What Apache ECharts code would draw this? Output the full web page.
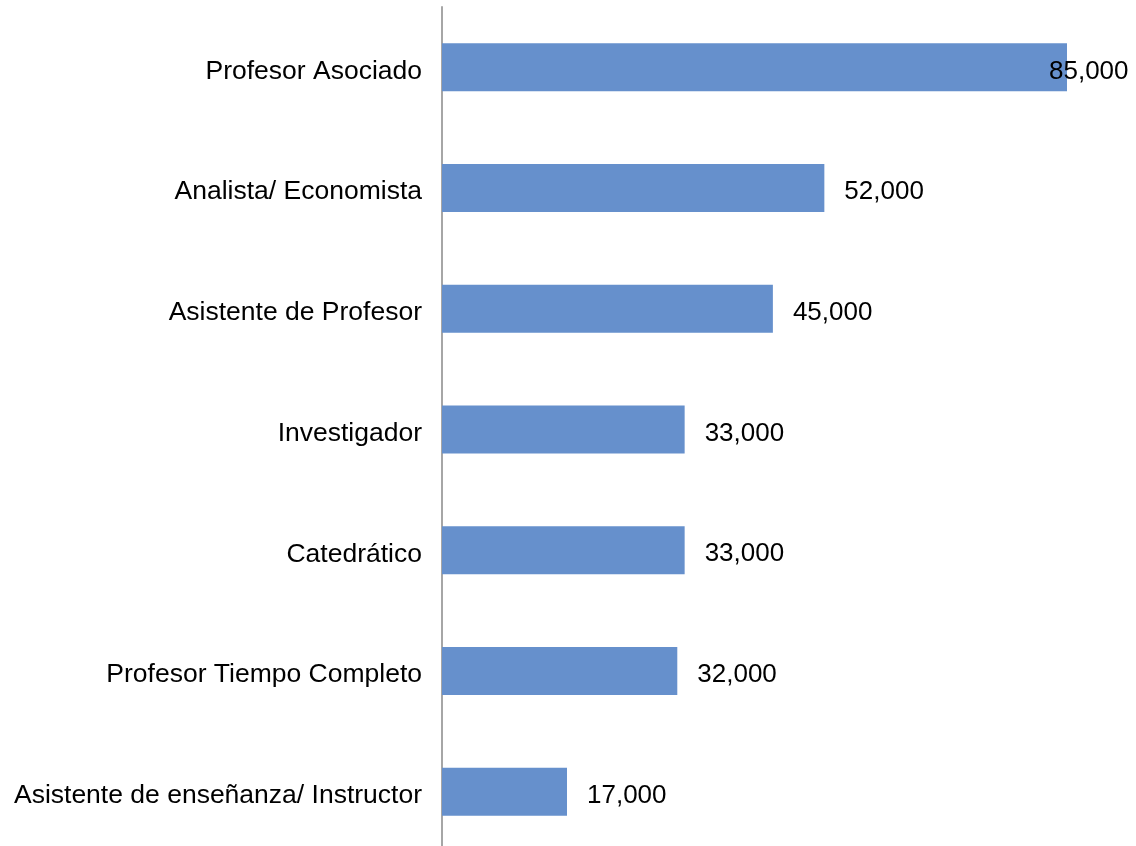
<!DOCTYPE html>
<html>
<head>
<meta charset="utf-8">
<script src="https://cdn.jsdelivr.net/npm/echarts@6/dist/echarts.min.js"></script>
<style>
  html, body { margin: 0; padding: 0; background: #fff; }
  #chart { width: 1136px; height: 846px; }
</style>
</head>
<body>
<div id="chart"></div>
<script>
const categories = [
  'Profesor Asociado',
  'Analista/ Economista',
  'Asistente de Profesor',
  'Investigador',
  'Catedrático',
  'Profesor Tiempo Completo',
  'Asistente de enseñanza/ Instructor'
];
const salaries = [85000, 52000, 45000, 33000, 33000, 32000, 17000];

const FONT = 'Liberation Sans, Arial, Helvetica, sans-serif';
const maxVal = Math.max(...salaries);

const chart = echarts.init(document.getElementById('chart'));
chart.setOption({
  animation: false,
  grid: { left: 442, right: 69, top: 7, bottom: -6, outerBoundsMode: 'none' },
  xAxis: {
    type: 'value', min: 0, max: 85000,
    show: false
  },
  yAxis: {
    type: 'category',
    inverse: true,
    data: categories,
    axisLine: { show: true, lineStyle: { color: '#a6a6a6', width: 2 } },
    axisTick: { show: false },
    axisLabel: {
      margin: 20,
      formatter: v => '{c|' + v + '}',
      rich: {
        c: { color: '#000', fontSize: 26.5, fontFamily: FONT, padding: [8, 0, 0, 0] }
      }
    }
  },
  series: [{
    type: 'bar',
    barWidth: 48,
    data: salaries.map(v => v === maxVal
      ? { value: v, label: { offset: [-38, 4] } }
      : v),
    itemStyle: { color: '#6690cc' },
    label: {
      show: true,
      position: 'right',
      distance: 20,
      offset: [0, 4],
      color: '#000',
      fontSize: 26,
      fontFamily: FONT,
      formatter: p => p.value.toLocaleString('en-US')
    }
  }]
});
</script>
</body>
</html>
